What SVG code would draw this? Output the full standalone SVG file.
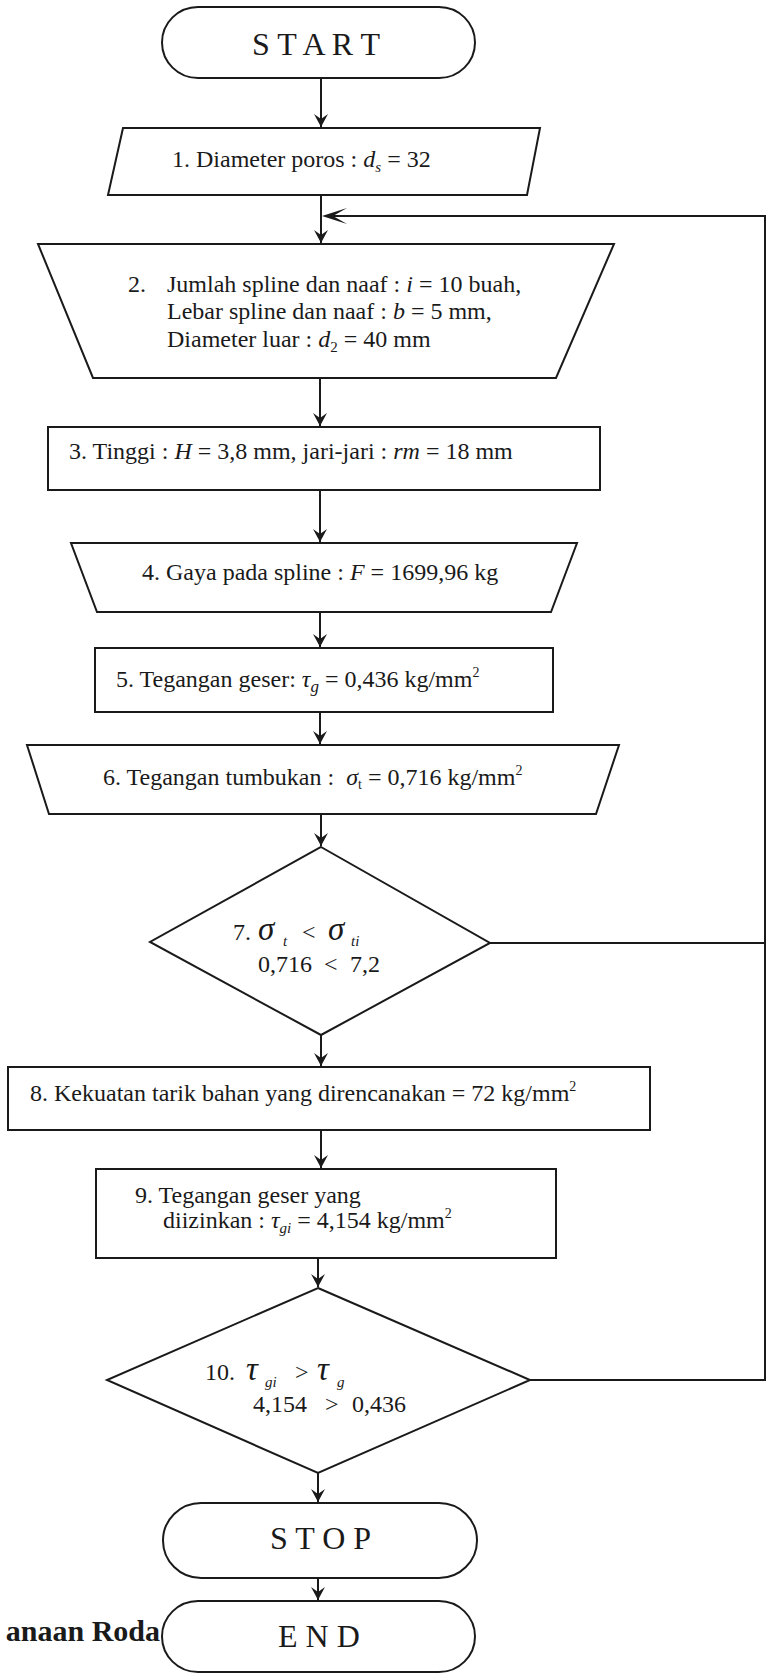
<svg xmlns="http://www.w3.org/2000/svg" width="767" height="1678" viewBox="0 0 767 1678">
<style>
.s{fill:#fff;stroke:#1a1a1a;stroke-width:2}
.c{fill:none;stroke:#1a1a1a;stroke-width:2}
text{font-family:"Liberation Serif","Times New Roman",serif;font-size:24px;fill:#1a1a1a}
.t{font-size:32px}
.i{font-style:italic}
.g{font-size:33px;font-style:italic}
.sb{font-size:15px;font-style:italic}
.b{font-weight:bold;font-size:30px}
</style>
<defs>
<marker id="ah" markerUnits="userSpaceOnUse" markerWidth="16" markerHeight="16" viewBox="-14 -8 16 16" refX="0" refY="0" orient="auto">
<path d="M0,0 L-13,-7 L-8,0 L-13,7 Z" fill="#1a1a1a"/>
</marker>
</defs>
<rect width="767" height="1678" fill="#fff"/>

<g id="connectors">
<line class="c" x1="321" y1="78" x2="321" y2="127" marker-end="url(#ah)"/>
<line class="c" x1="321" y1="195" x2="321" y2="243" marker-end="url(#ah)"/>
<polyline class="c" points="490,943 765,943"/>
<polyline class="c" points="530,1380 765,1380 765,216 325,216"/>
<polygon points="322,216 347,208 333,216 347,224" fill="#1a1a1a"/>
<line class="c" x1="320" y1="378" x2="320" y2="426" marker-end="url(#ah)"/>
<line class="c" x1="320" y1="490" x2="320" y2="542" marker-end="url(#ah)"/>
<line class="c" x1="320" y1="612" x2="320" y2="647" marker-end="url(#ah)"/>
<line class="c" x1="320" y1="712" x2="320" y2="744" marker-end="url(#ah)"/>
<line class="c" x1="321" y1="814" x2="321" y2="846" marker-end="url(#ah)"/>
<line class="c" x1="321" y1="1035" x2="321" y2="1066" marker-end="url(#ah)"/>
<line class="c" x1="321" y1="1131" x2="321" y2="1168" marker-end="url(#ah)"/>
<line class="c" x1="318" y1="1258" x2="318" y2="1287" marker-end="url(#ah)"/>
<line class="c" x1="318" y1="1473" x2="318" y2="1502" marker-end="url(#ah)"/>
<line class="c" x1="318" y1="1578" x2="318" y2="1600" marker-end="url(#ah)"/>
</g>

<g id="start">
<rect class="s" x="162" y="7" width="313" height="71" rx="36" ry="35.5"/>
<text class="t" x="252" y="55">S T A R T</text>
</g>

<g id="n1">
<polygon class="s" points="123,128 540,128 527,195 108,195"/>
<text x="172" y="167">1. Diameter poros : <tspan class="i">d</tspan><tspan class="i" font-size="15" dy="5">s</tspan><tspan dy="-5"> = 32</tspan></text>
</g>

<g id="n2">
<polygon class="s" points="38,244 614,244 556,378 93,378"/>
<text x="128" y="292">2.</text>
<text x="167" y="292">Jumlah spline dan naaf : <tspan class="i">i</tspan> = 10 buah,</text>
<text x="167" y="319">Lebar spline dan naaf : <tspan class="i">b</tspan> = 5 mm,</text>
<text x="167" y="347">Diameter luar : <tspan class="i">d</tspan><tspan font-size="15" dy="5">2</tspan><tspan dy="-5"> = 40 mm</tspan></text>
</g>

<g id="n3">
<rect class="s" x="48" y="427" width="552" height="63"/>
<text x="69" y="459">3. Tinggi : <tspan class="i">H</tspan> = 3,8 mm, jari-jari : <tspan class="i">rm</tspan> = 18 mm</text>
</g>

<g id="n4">
<polygon class="s" points="71,543 577,543 551,612 97,612"/>
<text x="142" y="580">4. Gaya pada spline : <tspan class="i">F</tspan> = 1699,96 kg</text>
</g>

<g id="n5">
<rect class="s" x="95" y="648" width="458" height="64"/>
<text x="116" y="687">5. Tegangan geser: <tspan class="i">τ</tspan><tspan class="i" font-size="17" dy="5">g</tspan><tspan dy="-5"> = 0,436 kg/mm</tspan><tspan font-size="14" dy="-10">2</tspan></text>
</g>

<g id="n6">
<polygon class="s" points="27,745 619,745 596,814 49,814"/>
<text x="103" y="785">6. Tegangan tumbukan :<tspan class="i" dx="12">σ</tspan><tspan font-size="14" dy="4">t</tspan><tspan dy="-4"> = 0,716 kg/mm</tspan><tspan font-size="14" dy="-10">2</tspan></text>
</g>

<g id="n7">
<polygon class="s" points="321,847 490,943 321,1035 150,942"/>
<text x="233" y="940">7.</text>
<text class="g" x="258" y="940">σ</text>
<text class="sb" x="283" y="946" fill="#555">t</text>
<text x="302" y="940">&lt;</text>
<text class="g" x="328" y="940">σ</text>
<text class="sb" x="351" y="946" fill="#555">ti</text>
<text x="258" y="972">0,716</text>
<text x="324" y="972">&lt;</text>
<text x="350" y="972">7,2</text>
</g>

<g id="n8">
<rect class="s" x="8" y="1067" width="642" height="63"/>
<text x="30" y="1101">8. Kekuatan tarik bahan yang direncanakan = 72 kg/mm<tspan font-size="14" dy="-10">2</tspan></text>
</g>

<g id="n9">
<rect class="s" x="96" y="1169" width="460" height="89"/>
<text x="135" y="1203">9. Tegangan geser yang</text>
<text x="163" y="1228">diizinkan : <tspan class="i">τ</tspan><tspan class="i" font-size="15" dy="5">gi</tspan><tspan dy="-5"> = 4,154 kg/mm</tspan><tspan font-size="14" dy="-10">2</tspan></text>
</g>

<g id="n10">
<polygon class="s" points="318,1288 530,1380 318,1473 107,1380"/>
<text x="205" y="1380">10.</text>
<text class="g" x="246" y="1380">τ</text>
<text class="sb" x="265" y="1387">gi</text>
<text x="295" y="1380">&gt;</text>
<text class="g" x="317" y="1380">τ</text>
<text class="sb" x="337" y="1387">g</text>
<text x="253" y="1412">4,154</text>
<text x="325" y="1412">&gt;</text>
<text x="352" y="1412">0,436</text>
</g>

<g id="stop">
<rect class="s" x="163" y="1503" width="314" height="75" rx="38" ry="37.5"/>
<text class="t" x="270" y="1549">S T O P</text>
</g>

<g id="end">
<rect class="s" x="162" y="1601" width="313" height="71" rx="36" ry="35.5"/>
<text class="t" x="278" y="1647">E N D</text>
</g>

<text class="b" x="160" y="1641" text-anchor="end">anaan Roda</text>
</svg>
